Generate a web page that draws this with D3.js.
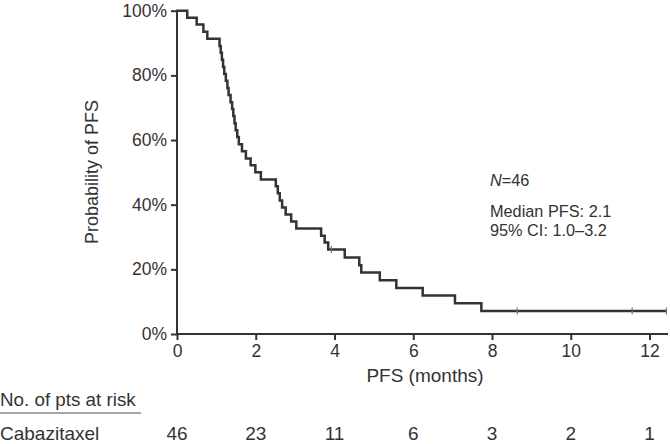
<!DOCTYPE html>
<html><head><meta charset="utf-8">
<script src="https://cdn.jsdelivr.net/npm/d3@7"></script>
<style>body{margin:0;background:#fff}svg{display:block;font-family:"Liberation Sans",Arial,sans-serif}</style>
</head><body><svg id="c" width="670" height="444"></svg>
<script>
// Kaplan-Meier step points (months, % PFS)
const stepTimes = [0,0.26,0.50,0.67,0.77,1.08,1.11,1.14,1.17,1.20,1.24,1.28,1.31,1.36,1.40,1.43,1.46,1.49,1.53,1.57,1.65,1.75,1.87,1.99,2.13,2.51,2.56,2.61,2.67,2.76,2.90,3.03,3.66,3.75,3.84,4.26,4.63,4.68,5.15,5.57,6.24,7.06,7.73];
const stepSurv  = [100,97.8,95.7,93.5,91.3,89.1,87.0,84.8,82.6,80.4,78.3,76.1,73.9,71.7,69.6,67.4,65.2,63.0,60.9,58.7,56.5,54.3,52.2,50.0,47.8,45.7,43.5,41.3,39.1,37.0,34.8,32.6,30.4,28.3,26.1,23.7,21.3,19.0,16.6,14.2,11.9,9.5,7.1];
const censorTimes = [3.92,8.64,11.56,12.43];
const endTime = 12.43;
const xTicks = [0,2,4,6,8,10,12];
const yTicks = [0,20,40,60,80,100];
const riskLabel = "Cabazitaxel";
const atRisk = [46,23,11,6,3,2,1];

const svg = d3.select("#c");
const x = d3.scaleLinear().domain([0,12]).range([177,649.5]);
const y = d3.scaleLinear().domain([0,100]).range([334,10.7]);
const col = "#333";

function survAt(t){let s=100;for(let i=0;i<stepTimes.length;i++){if(stepTimes[i]<=t)s=stepSurv[i];}return s;}

const yAx = svg.append("g").attr("transform","translate(177,0)")
  .call(d3.axisLeft(y).tickValues(yTicks).tickFormat(d=>d+"%").tickSize(6).tickPadding(4));
const xAx = svg.append("g").attr("transform","translate(0,334)")
  .call(d3.axisBottom(x).tickValues(xTicks).tickSize(6).tickPadding(5));
[yAx,xAx].forEach(g=>{
  g.select(".domain").remove();
  g.selectAll("line").attr("stroke",col).attr("stroke-width",2);
  g.selectAll("text").attr("fill","#333").style("font-size","17.5px");
});
svg.append("line").attr("x1",177).attr("x2",177).attr("y1",y(100)-1).attr("y2",334).attr("stroke",col).attr("stroke-width",2);
svg.append("line").attr("x1",176).attr("x2",x(12.47)).attr("y1",334).attr("y2",334).attr("stroke",col).attr("stroke-width",2);

const pts = stepTimes.map((t,i)=>[t,stepSurv[i]]);
pts.push([endTime, stepSurv[stepSurv.length-1]]);
const line = d3.line().x(d=>x(d[0])).y(d=>y(d[1])).curve(d3.curveStepAfter);
svg.append("path").attr("d",line(pts)).attr("fill","none").attr("stroke",col).attr("stroke-width",2.5);
svg.selectAll(".cens").data(censorTimes).enter().append("line")
  .attr("x1",d=>x(d)).attr("x2",d=>x(d)).attr("y1",d=>y(survAt(d))-3.5).attr("y2",d=>y(survAt(d))+3.5)
  .attr("stroke","#777").attr("stroke-width",1.2);

svg.append("text").attr("transform","translate(98,172) rotate(-90)").attr("text-anchor","middle")
  .style("font-size","18px").attr("fill","#333").text("Probability of PFS");
svg.append("text").attr("x",425).attr("y",382).attr("text-anchor","middle")
  .style("font-size","19px").attr("fill","#333").text("PFS (months)");

const ann = svg.append("g").style("font-size","16.3px").attr("fill","#333");
const t1 = ann.append("text").attr("x",490).attr("y",186);
t1.append("tspan").style("font-style","italic").text("N");
t1.append("tspan").text("=46");
ann.append("text").attr("x",490).attr("y",217).text("Median PFS: 2.1");
ann.append("text").attr("x",490).attr("y",236).text("95% CI: 1.0\u20133.2");

svg.append("text").attr("x",0).attr("y",406).style("font-size","18.8px").attr("fill","#333").text("No. of pts at risk");
svg.append("line").attr("x1",0).attr("x2",141).attr("y1",413).attr("y2",413).attr("stroke","#888").attr("stroke-width",1.6);
svg.append("text").attr("x",0).attr("y",440).style("font-size","19px").attr("fill","#333").text(riskLabel);
svg.selectAll(".risk").data(atRisk).enter().append("text")
  .attr("x",(d,i)=>x(xTicks[i])).attr("y",440).attr("text-anchor","middle")
  .style("font-size","19px").attr("fill","#333").text(d=>d);
</script></body></html>
